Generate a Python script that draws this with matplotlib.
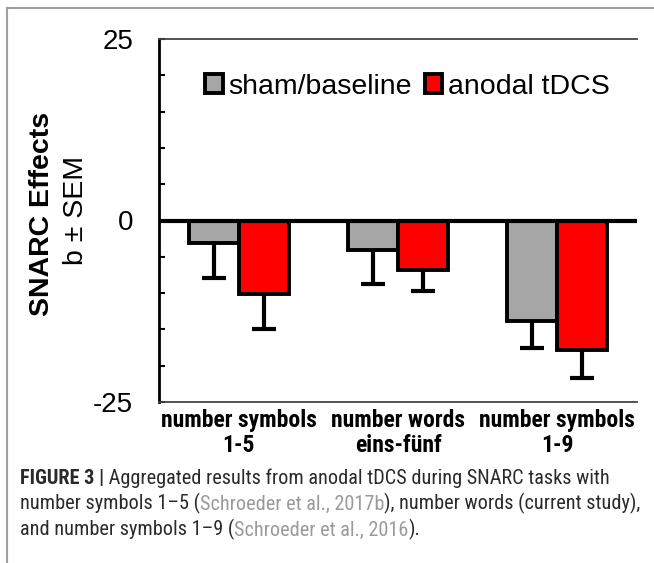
import matplotlib
matplotlib.use("Agg")
import matplotlib.pyplot as plt
from matplotlib.lines import Line2D
from matplotlib import font_manager
import numpy as np

# ---------------- data ----------------
categories = ["number symbols\n1-5", "number words\neins-fünf", "number symbols\n1-9"]
series_names = ["sham/baseline", "anodal tDCS"]
sham_values = [-3.1, -4.0, -13.9]
sham_sem = [4.8, 4.8, 3.7]
anodal_values = [-10.1, -6.8, -17.8]
anodal_sem = [4.8, 2.9, 3.9]
ytick_values = [-25, -20, -15, -10, -5, 0, 5, 10, 15, 20, 25]
ytick_labels = ["-25", "", "", "", "", "0", "", "", "", "", "25"]


def pick_family(cands, fallback):
    for c in cands:
        try:
            font_manager.findfont(font_manager.FontProperties(family=c),
                                  fallback_to_default=False)
            return [c, fallback, "DejaVu Sans"]
        except Exception:
            continue
    return [fallback, "DejaVu Sans"]


narrow = pick_family(["Liberation Sans Narrow", "Arial Narrow", "Roboto Condensed",
                      "Open Sans Condensed", "DejaVu Sans Condensed"], "Liberation Sans")
base = ["Liberation Sans", "DejaVu Sans"]

W, H = 654, 563
fig = plt.figure(figsize=(W / 100, H / 100), dpi=100)
fig.patch.set_facecolor("white")
renderer = fig.canvas.get_renderer()


def fit_size(text, target_px, family, weight, size0=20.0):
    t = fig.text(0, 0, text, fontsize=size0, family=family, fontweight=weight)
    w = t.get_window_extent(renderer=renderer).width
    t.remove()
    return size0 * target_px / w


ax = fig.add_axes([159 / W, (H - 402) / H, 478 / W, 363 / H])

x = np.arange(len(categories))
bw = 0.314
sham_color = "#a6a6a6"
anodal_color = "#ff0000"

b1 = ax.bar(x - bw / 2, sham_values, width=bw, color=sham_color,
            edgecolor="black", linewidth=2.8, zorder=3, label=series_names[0])
b2 = ax.bar(x + bw / 2, anodal_values, width=bw, color=anodal_color,
            edgecolor="black", linewidth=2.8, zorder=3, label=series_names[1])

for xs, vals, sems in [(x - bw / 2, sham_values, sham_sem),
                       (x + bw / 2, anodal_values, anodal_sem)]:
    eb = ax.errorbar(xs, vals, yerr=[sems, [0] * len(sems)], fmt="none",
                     ecolor="black", elinewidth=3, capsize=8.6, capthick=3,
                     zorder=2)
    if len(eb[1]) > 1:
        eb[1][1].set_visible(False)

ax.axhline(0, color="black", linewidth=3, zorder=4)

ax.set_xlim(-0.5, 2.5)
ax.set_ylim(-25, 25)

ax.set_yticks(ytick_values)
ax.set_yticklabels(ytick_labels, fontsize=20, family=base)
ax.tick_params(axis="y", direction="in", length=4.5, width=1.5, pad=18.5, colors="black")

xl_size = min(17.0, fit_size("number symbols", 167, narrow, "bold"))
ax.set_xticks(x)
ax.set_xticklabels(categories, fontsize=xl_size, fontweight="bold",
                   family=narrow, linespacing=1.12)
ax.tick_params(axis="x", length=0, pad=5)

ax.spines["right"].set_visible(False)
ax.spines["left"].set_linewidth(2)
ax.spines["left"].set_color("black")
for s in ["top", "bottom"]:
    ax.spines[s].set_linewidth(1.3)
    ax.spines[s].set_color("#444444")

leg = ax.legend(handles=[b1, b2], loc="center left",
                bbox_to_anchor=((205 - 159) / 478, (402 - 86.5) / 363),
                ncol=2, frameon=False, borderpad=0, borderaxespad=0,
                handlelength=0.62, handleheight=0.62, handletextpad=0.2,
                columnspacing=0.45,
                prop={"family": base, "size": 20.5})

# y-axis label (two lines)
fig.text(42 / W, 1 - 214 / H, "SNARC Effects", rotation=90, ha="center", va="center",
         fontsize=20.5, fontweight="bold", family=base)
fig.text(76 / W, 1 - 210 / H, "b ± SEM", rotation=90, ha="center", va="center",
         fontsize=20.5, family=base)

# frame around figure panel
frame_color = "#a0a0a0"
fig.add_artist(Line2D([6.5 / W, 6.5 / W], [0, 1 - 8 / H], transform=fig.transFigure,
                      color=frame_color, linewidth=1.5))
fig.add_artist(Line2D([6.5 / W, 1], [1 - 8 / H, 1 - 8 / H], transform=fig.transFigure,
                      color=frame_color, linewidth=1.5))

# caption
dark = "#2a2a2a"
light = "#9a9a9a"
caption_lines = [
    [("FIGURE 3 |", dark, "bold"), (" Aggregated results from anodal tDCS during SNARC tasks with", dark, "normal")],
    [("number symbols 1–5 (", dark, "normal"), ("Schroeder et al., 2017b", light, "normal"),
     ("), number words (current study),", dark, "normal")],
    [("and number symbols 1–9 (", dark, "normal"), ("Schroeder et al., 2016", light, "normal"),
     (").", dark, "normal")],
]
cap_size = min(15.0, fit_size("number symbols 1–5 (Schroeder et al., 2017b), number words (current study),",
                              617, narrow, "normal"))
line_y = [478, 503, 529]
for ly, pieces in zip(line_y, caption_lines):
    last = None
    for txt, col, wt in pieces:
        if last is None:
            last = fig.text(20 / W, 1 - ly / H, txt, color=col, fontweight=wt,
                            fontsize=cap_size, family=narrow, ha="left", va="center")
        else:
            last = ax.annotate(txt, xy=(1, 0), xycoords=last, va="bottom", ha="left",
                               color=col, fontweight=wt, fontsize=cap_size,
                               family=narrow, annotation_clip=False)

fig.savefig("out.png", dpi=100, facecolor="white")
